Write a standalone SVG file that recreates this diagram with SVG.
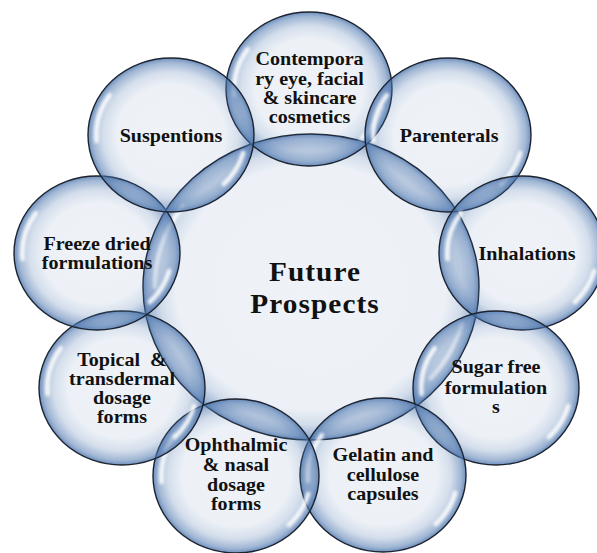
<svg xmlns="http://www.w3.org/2000/svg" xmlns:xlink="http://www.w3.org/1999/xlink" width="597" height="553" viewBox="0 0 597 553">
  <style>
    .bubble { fill: url(#bubbleFill); stroke: #1d2430; stroke-width: 1.4; }
    .hub { fill: url(#hubFill); stroke: #1d2430; stroke-width: 1.4; }
    .shine { fill: none; stroke: #ffffff; stroke-width: 4.5; stroke-linecap: round; opacity: 0.9; filter: url(#soft); }
    .lbl { font-family: "Liberation Serif", "Times New Roman", serif; font-weight: bold; font-size: 18.5px; fill: #111111; text-anchor: middle; }
    .hubLbl { font-family: "Liberation Serif", "Times New Roman", serif; font-weight: bold; font-size: 27px; letter-spacing: 1px; fill: #111111; text-anchor: middle; }
  </style>
  <defs>
    <radialGradient id="bubbleFill" cx="0.5" cy="0.5" r="0.5">
      <stop offset="0" stop-color="#4a74ad" stop-opacity="0.09"/>
      <stop offset="0.65" stop-color="#4a74ad" stop-opacity="0.1"/>
      <stop offset="0.82" stop-color="#4a74ad" stop-opacity="0.24"/>
      <stop offset="0.94" stop-color="#4a74ad" stop-opacity="0.52"/>
      <stop offset="1" stop-color="#4a74ad" stop-opacity="0.8"/>
    </radialGradient>
    <radialGradient id="hubFill" cx="0.5" cy="0.5" r="0.5">
      <stop offset="0" stop-color="#4a74ad" stop-opacity="0.09"/>
      <stop offset="0.8" stop-color="#4a74ad" stop-opacity="0.1"/>
      <stop offset="0.9" stop-color="#4a74ad" stop-opacity="0.25"/>
      <stop offset="0.97" stop-color="#4a74ad" stop-opacity="0.52"/>
      <stop offset="1" stop-color="#4a74ad" stop-opacity="0.8"/>
    </radialGradient>
    <filter id="soft" x="-50%" y="-50%" width="200%" height="200%">
      <feGaussianBlur stdDeviation="1.4"/>
    </filter>
    <!-- outer bubble body with its two glossy streaks -->
    <g id="bubble">
      <ellipse class="bubble" cx="0" cy="0" rx="83" ry="77"/>
      <path class="shine" d="M -74.4 6 A 74.7 69.3 0 0 1 -61.2 -39.8"/>
      <path class="shine" d="M 72.2 17.9 A 74.7 69.3 0 0 1 52.8 49"/>
    </g>
  </defs>

  <rect width="597" height="553" fill="#ffffff"/>

  <!-- central hub -->
  <g id="hub" transform="translate(311 287)">
    <ellipse class="hub" cx="0" cy="0" rx="168" ry="153"/>
    <path class="shine" d="M -156 0 A 156 142 0 0 1 -127.8 -81.4"/>
    <path class="shine" d="M 150.7 36.8 A 156 142 0 0 1 119.5 91.3"/>
    <g transform="translate(4 0) scale(1.085 1)">
      <text class="hubLbl"><tspan x="0" y="-6.3">Future</tspan><tspan x="0" y="26">Prospects</tspan></text>
    </g>
  </g>

  <!-- ring of bubbles, clockwise from the top -->
  <g id="cosmetics" transform="translate(309 89)">
    <use xlink:href="#bubble"/>
    <g transform="scale(1.085 1)">
      <text class="lbl"><tspan x="0.5" y="-24">Contempora</tspan><tspan x="0.5" y="-4.5">ry eye, facial</tspan><tspan x="0.5" y="15">&amp; skincare</tspan><tspan x="0.5" y="34.5">cosmetics</tspan></text>
    </g>
  </g>

  <g id="parenterals" transform="translate(448 135)">
    <use xlink:href="#bubble"/>
    <g transform="scale(1.085 1)">
      <text class="lbl"><tspan x="1" y="6.7">Parenterals</tspan></text>
    </g>
  </g>

  <g id="inhalations" transform="translate(522 253)">
    <use xlink:href="#bubble"/>
    <g transform="scale(1.085 1)">
      <text class="lbl"><tspan x="4.6" y="7">Inhalations</tspan></text>
    </g>
  </g>

  <g id="sugar-free" transform="translate(496 388)">
    <use xlink:href="#bubble"/>
    <g transform="scale(1.085 1)">
      <text class="lbl"><tspan x="0" y="-15">Sugar free</tspan><tspan x="0" y="5.5">formulation</tspan><tspan x="0" y="25">s</tspan></text>
    </g>
  </g>

  <g id="capsules" transform="translate(383 475)">
    <use xlink:href="#bubble"/>
    <g transform="scale(1.085 1)">
      <text class="lbl"><tspan x="0" y="-13.7">Gelatin and</tspan><tspan x="0" y="6.3">cellulose</tspan><tspan x="0" y="25.3">capsules</tspan></text>
    </g>
  </g>

  <g id="ophthalmic" transform="translate(236 476)">
    <use xlink:href="#bubble"/>
    <g transform="scale(1.085 1)">
      <text class="lbl"><tspan x="0" y="-24.7">Ophthalmic</tspan><tspan x="0" y="-4.7">&amp; nasal</tspan><tspan x="0" y="14.5">dosage</tspan><tspan x="0" y="34">forms</tspan></text>
    </g>
  </g>

  <g id="topical" transform="translate(122 388)">
    <use xlink:href="#bubble"/>
    <g transform="scale(1.085 1)">
      <text class="lbl"><tspan x="0" y="-22.3">Topical&#160; &amp;</tspan><tspan x="0" y="-3">transdermal</tspan><tspan x="0" y="15.5">dosage</tspan><tspan x="0" y="35">forms</tspan></text>
    </g>
  </g>

  <g id="freeze-dried" transform="translate(97 253)">
    <use xlink:href="#bubble"/>
    <g transform="scale(1.085 1)">
      <text class="lbl"><tspan x="0" y="-3">Freeze dried</tspan><tspan x="0" y="16.3">formulations</tspan></text>
    </g>
  </g>

  <g id="suspentions" transform="translate(171 135)">
    <use xlink:href="#bubble"/>
    <g transform="scale(1.085 1)">
      <text class="lbl"><tspan x="0" y="6.7">Suspentions</tspan></text>
    </g>
  </g>
</svg>
